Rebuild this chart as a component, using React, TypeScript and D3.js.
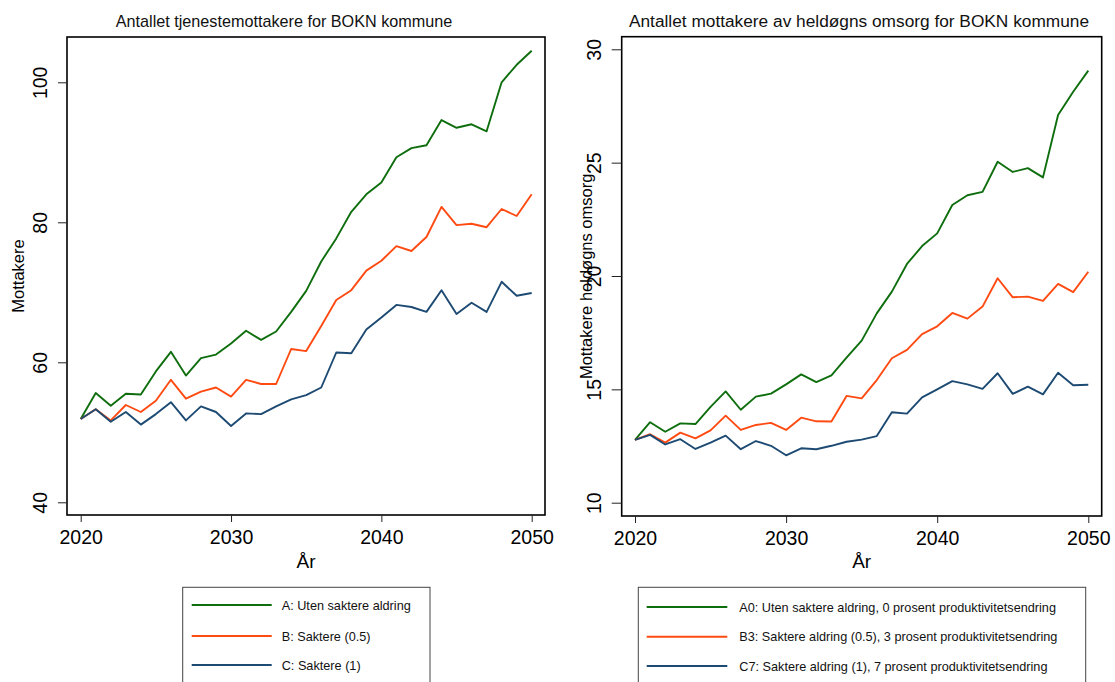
import React, { useEffect, useRef } from 'react';
import * as d3 from 'd3';

// years on the x axis
const years: number[] = d3.range(2020, 2051);
const xTicks = [2020, 2030, 2040, 2050];

// left panel: tjenestemottakere
const leftA = [51.9, 55.6, 53.8, 55.5, 55.4, 58.7, 61.5, 58.1, 60.6, 61.1, 62.7, 64.5, 63.2, 64.4, 67.2, 70.2, 74.4, 77.7, 81.5, 84.0, 85.7, 89.3, 90.6, 91.0, 94.6, 93.5, 94.0, 93.0, 100.0, 102.5, 104.5];
const leftB = [51.9, 53.3, 51.7, 53.9, 52.9, 54.5, 57.5, 54.8, 55.8, 56.4, 55.1, 57.5, 56.9, 56.9, 61.9, 61.6, 65.2, 68.9, 70.3, 73.1, 74.5, 76.6, 75.9, 77.9, 82.2, 79.6, 79.8, 79.3, 81.9, 80.9, 84.0];
const leftC = [51.9, 53.3, 51.5, 52.9, 51.1, 52.6, 54.3, 51.7, 53.7, 52.9, 50.9, 52.7, 52.6, 53.7, 54.7, 55.3, 56.4, 61.4, 61.3, 64.7, 66.4, 68.2, 67.9, 67.2, 70.3, 66.9, 68.5, 67.2, 71.5, 69.5, 69.9];
const leftTicks = [40, 60, 80, 100];
const leftLabels = ['A: Uten saktere aldring', 'B: Saktere (0.5)', 'C: Saktere (1)'];

// right panel: heldøgns omsorg
const rightA = [12.77, 13.55, 13.13, 13.5, 13.47, 14.23, 14.91, 14.1, 14.68, 14.81, 15.22, 15.66, 15.32, 15.62, 16.4, 17.15, 18.35, 19.31, 20.53, 21.32, 21.88, 23.13, 23.56, 23.71, 25.04, 24.59, 24.76, 24.35, 27.1, 28.13, 29.06];
const rightB = [12.77, 13.02, 12.65, 13.09, 12.84, 13.19, 13.84, 13.21, 13.43, 13.52, 13.21, 13.75, 13.59, 13.58, 14.71, 14.6, 15.41, 16.37, 16.74, 17.44, 17.78, 18.37, 18.12, 18.65, 19.9, 19.06, 19.09, 18.9, 19.65, 19.29, 20.19];
const rightC = [12.77, 12.99, 12.57, 12.8, 12.37, 12.65, 12.96, 12.36, 12.72, 12.51, 12.09, 12.4, 12.36, 12.51, 12.69, 12.78, 12.94, 13.99, 13.93, 14.65, 15.0, 15.36, 15.22, 15.02, 15.71, 14.8, 15.12, 14.78, 15.73, 15.18, 15.2];
const rightTicks = [10, 15, 20, 25, 30];
const rightLabels = [
  'A0: Uten saktere aldring, 0 prosent produktivitetsendring',
  'B3: Saktere aldring (0.5), 3 prosent produktivitetsendring',
  'C7: Saktere aldring (1), 7 prosent produktivitetsendring',
];

const colors = ['#0e6e0e', '#ff4a12', '#1d4a72'];
const FONT = '"Liberation Sans", Arial, Helvetica, sans-serif';

interface PanelSpec {
  title: string;
  titleX: number;
  titleSize: number;
  yLabel: string;
  yLabelX: number;
  series: number[][];
  labels: string[];
  yDomain: [number, number];
  yTicks: number[];
  box: { x0: number; x1: number; y0: number; y1: number };
  xRange: [number, number];
  yRange: [number, number];
  yTickLen: number;
  legend: { x0: number; x1: number; y0: number; lineX0: number; lineX1: number; textX: number; rows: number[] };
}

const panels: PanelSpec[] = [
  {
    title: 'Antallet tjenestemottakere for BOKN kommune',
    titleX: 284,
    titleSize: 16.2,
    yLabel: 'Mottakere',
    yLabelX: 24,
    series: [leftA, leftB, leftC],
    labels: leftLabels,
    yDomain: [40, 100],
    yTicks: leftTicks,
    box: { x0: 67, x1: 545, y0: 37, y1: 515 },
    xRange: [80.7, 531.7],
    yRange: [502.3, 82.3],
    yTickLen: 9,
    legend: { x0: 182.7, x1: 430, y0: 587.3, lineX0: 191.7, lineX1: 271.7, textX: 281.7, rows: [605, 636, 665] },
  },
  {
    title: 'Antallet mottakere av heldøgns omsorg for BOKN kommune',
    titleX: 859,
    titleSize: 17.3,
    yLabel: 'Mottakere heldøgns omsorg',
    yLabelX: 591.5,
    series: [rightA, rightB, rightC],
    labels: rightLabels,
    yDomain: [10, 30],
    yTicks: rightTicks,
    box: { x0: 621.7, x1: 1101.7, y0: 36.7, y1: 516 },
    xRange: [635, 1088.3],
    yRange: [502.7, 49.3],
    yTickLen: 10,
    legend: { x0: 638.3, x1: 1085.7, y0: 587.3, lineX0: 646.7, lineX1: 727.3, textX: 739.3, rows: [607, 636.7, 666] },
  },
];

function drawPanel(svg: d3.Selection<SVGSVGElement, unknown, null, undefined>, p: PanelSpec) {
  const g = svg.append('g');
  const x = d3.scaleLinear().domain([2020, 2050]).range(p.xRange);
  const y = d3.scaleLinear().domain(p.yDomain).range(p.yRange);

  // title
  g.append('text')
    .attr('x', p.titleX)
    .attr('y', 27)
    .attr('text-anchor', 'middle')
    .attr('font-size', p.titleSize)
    .attr('fill', '#111')
    .text(p.title);

  // lines
  const line = d3.line<number>()
    .x((_, i) => x(years[i]))
    .y(d => y(d));
  p.series.forEach((s, i) => {
    g.append('path')
      .datum(s)
      .attr('d', line)
      .attr('fill', 'none')
      .attr('stroke', colors[i])
      .attr('stroke-width', 1.9)
      .attr('stroke-linejoin', 'round');
  });

  // plot frame
  g.append('rect')
    .attr('x', p.box.x0)
    .attr('y', p.box.y0)
    .attr('width', p.box.x1 - p.box.x0)
    .attr('height', p.box.y1 - p.box.y0)
    .attr('fill', 'none')
    .attr('stroke', '#000')
    .attr('stroke-width', 1.6);

  // x axis
  const xAxis = g.append('g')
    .attr('transform', `translate(0,${p.box.y1})`)
    .call(d3.axisBottom(x).tickValues(xTicks).tickSize(7).tickFormat(d3.format('d')));
  xAxis.select('.domain').remove();
  xAxis.selectAll('line').attr('stroke', '#222').attr('stroke-width', 1);
  xAxis.selectAll('text')
    .attr('y', 29)
    .attr('dy', null)
    .attr('font-size', 19.5)
    .attr('font-family', FONT)
    .attr('fill', '#000');

  g.append('text')
    .attr('x', (p.box.x0 + p.box.x1) / 2)
    .attr('y', 568)
    .attr('text-anchor', 'middle')
    .attr('font-size', 19)
    .attr('fill', '#000')
    .text('År');

  // y axis, rotated labels
  const yAxis = g.append('g')
    .attr('transform', `translate(${p.box.x0},0)`)
    .call(d3.axisLeft(y).tickValues(p.yTicks).tickSize(p.yTickLen).tickFormat(d3.format('d')));
  yAxis.select('.domain').remove();
  yAxis.selectAll('line').attr('stroke', '#222').attr('stroke-width', 1);
  yAxis.selectAll('text')
    .attr('x', 0)
    .attr('y', -(p.yTickLen + 11))
    .attr('dy', null)
    .attr('transform', 'rotate(-90)')
    .attr('text-anchor', 'middle')
    .attr('font-size', 19.5)
    .attr('font-family', FONT)
    .attr('fill', '#000');

  g.append('text')
    .attr('transform', `translate(${p.yLabelX},${(p.box.y0 + p.box.y1) / 2}) rotate(-90)`)
    .attr('text-anchor', 'middle')
    .attr('font-size', 16.5)
    .attr('fill', '#000')
    .text(p.yLabel);

  // legend
  const L = p.legend;
  g.append('rect')
    .attr('x', L.x0)
    .attr('y', L.y0)
    .attr('width', L.x1 - L.x0)
    .attr('height', 120)
    .attr('fill', '#fff')
    .attr('stroke', '#444')
    .attr('stroke-width', 1);
  L.rows.forEach((ry, i) => {
    g.append('line')
      .attr('x1', L.lineX0)
      .attr('x2', L.lineX1)
      .attr('y1', ry)
      .attr('y2', ry)
      .attr('stroke', colors[i])
      .attr('stroke-width', 1.9);
    g.append('text')
      .attr('x', L.textX)
      .attr('y', ry + 4.5)
      .attr('font-size', 12.7)
      .attr('fill', '#111')
      .text(p.labels[i]);
  });
}

export default function App() {
  const svgRef = useRef<SVGSVGElement | null>(null);

  useEffect(() => {
    const svg = d3.select(svgRef.current!);
    svg.selectAll('*').remove();
    panels.forEach(p => drawPanel(svg as any, p));
  }, []);

  return (
    <div style={{ position: 'absolute', left: 0, top: 0 }}>
      <svg
        ref={svgRef}
        width={1115}
        height={682}
        style={{ display: 'block', background: '#fff', fontFamily: FONT }}
      />
    </div>
  );
}
